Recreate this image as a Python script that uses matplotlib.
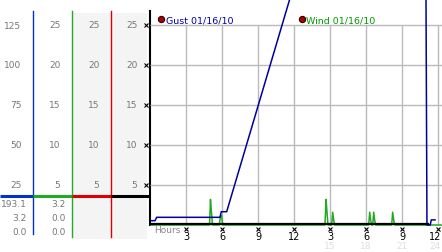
import matplotlib.pyplot as plt
import matplotlib.transforms as mtransforms

W, H = 442, 253

# Gust series (hours since start, value)
gust_hours = [0.0, 0.42, 0.56, 5.83, 5.94, 6.39, 13.7, 22.97, 23.08, 23.35, 23.44, 23.75]
gust_vals = [2.7, 2.7, 4.8, 4.8, 8.3, 8.3, 193.1, 193.1, 0.0, 0.0, 3.2, 3.2]

# Wind series
wind_hours = [0.0, 4.96, 5.04, 5.12, 5.21, 5.78, 5.86, 5.97, 6.05,
              14.58, 14.67, 14.75, 14.83, 15.14, 15.22, 15.31, 15.39,
              18.22, 18.31, 18.39, 18.47, 18.56, 18.64, 18.72, 18.81,
              20.14, 20.22, 20.31, 20.39, 24.33]
wind_vals = [0.0, 0.0, 3.2, 1.6, 0.0, 0.0, 1.0, 1.2, 0.0,
             0.0, 3.2, 1.6, 0.0, 0.0, 1.6, 0.6, 0.0,
             0.0, 1.6, 0.6, 0.0, 0.0, 1.6, 0.6, 0.0,
             0.0, 1.6, 0.6, 0.0, 0.0]

# black base series
base_hours = [0.0, 23.17]
base_vals = [0.0, 0.0]

gust_ticks = [25, 50, 75, 100, 125]
wind_ticks = [5, 10, 15, 20, 25]
gust_stats = ["193.1", "3.2", "0.0"]   # max, current, min
wind_stats = ["3.2", "0.0", "0.0"]
hour_ticks = [3, 6, 9, 12, 15, 18, 21, 24]
hour_labels = ["3", "6", "9", "12", "3", "6", "9", "12"]
day_ticks = [15, 18, 21, 24]
day_labels = ["15", "18", "21", "24"]

GUST_C = "#000099"
WIND_C = "#22aa22"
GRID_C = "#bbbbbb"
LABEL_C = "#777777"

fig = plt.figure(figsize=(W / 100, H / 100), dpi=100)

# pixel-based layer for the left scale panel and decorations
deco = fig.add_axes([0, 0, 1, 1], zorder=0)
deco.set_xlim(0, W)
deco.set_ylim(H, 0)
deco.axis("off")

bottom_px = 227.6
ax = fig.add_axes([150 / W, (H - bottom_px) / H, (W - 150) / W, bottom_px / H], zorder=2)
ax.patch.set_visible(False)
ax.set_xlim(0, 24.333)
ax.set_ylim(-1, 141.25)
ax.axis("off")

ax2 = fig.add_axes(ax.get_position(), zorder=1)
ax2.patch.set_visible(False)
ax2.set_xlim(0, 24.333)
ax2.set_ylim(-0.2, 28.25)
ax2.axis("off")

# grid
ax2.hlines(wind_ticks, 0, 24.333, color=GRID_C, lw=1, zorder=1)
ax2.vlines(hour_ticks, 0, 25, color=GRID_C, lw=1, zorder=1)

# data
ax2.plot(wind_hours, wind_vals, color=WIND_C, lw=1.1, zorder=2)
ax.plot(gust_hours, gust_vals, color=GUST_C, lw=1.1, zorder=3)
base_tr = mtransforms.offset_copy(ax.transData, fig=fig, x=0, y=1.5, units="dots")
ax.plot(base_hours, base_vals, color="black", lw=1.6, transform=base_tr, zorder=4)

# left panel: shading, column lines, divider
deco.axvspan(72.5, 147, ymin=(H - 240) / H, ymax=(H - 14) / H, color="#f4f4f4", lw=0)
deco.plot([33.3, 33.3], [12, 235], color="#0033cc", lw=1)
deco.plot([72.3, 72.3], [12, 238], color="#22aa22", lw=1)
deco.plot([111.3, 111.3], [12, 238], color="#dd0000", lw=1)
deco.plot([149.5, 149.5], [12, 226], color="black", lw=1.5)
for x0, x1, c in [(0, 33.3, "#0033cc"), (33.3, 72.3, "#22aa22"),
                  (72.3, 111.3, "#dd0000"), (111.3, 149.5, "black")]:
    deco.plot([x0, x1], [196.5, 196.5], color=c, lw=2.2, solid_capstyle="butt")

t_gust = mtransforms.blended_transform_factory(deco.transData, ax.transData)
t_wind = mtransforms.blended_transform_factory(deco.transData, ax2.transData)
t_hour = mtransforms.blended_transform_factory(ax.transData, deco.transData)

fs = 6.5
for v in gust_ticks:
    deco.text(21.5, v, str(v), transform=t_gust, ha="right", va="center",
              fontsize=fs, color=LABEL_C)
for v in wind_ticks:
    for x in [60.5, 99.5, 137.5]:
        deco.text(x, v, str(v), transform=t_wind, ha="right", va="center",
                  fontsize=fs, color=LABEL_C)
for i, y in enumerate([205, 218.3, 232.3]):
    deco.text(26.5, y, gust_stats[i], ha="right", va="center", fontsize=fs, color=LABEL_C)
    deco.text(66, y, wind_stats[i], ha="right", va="center", fontsize=fs, color=LABEL_C)

# small tick marks on the axes
deco.plot([145.7] * len(gust_ticks), gust_ticks, transform=t_gust, ls="none",
          marker="x", ms=2.6, mew=0.8, color="black")
deco.plot(hour_ticks, [230] * len(hour_ticks), transform=t_hour, ls="none",
          marker="x", ms=2.6, mew=0.8, color="black")

# hour labels (last one pulled in so it stays inside the picture)
deco.text(154, 231, "Hours", ha="left", va="center", fontsize=fs, color="#888888")
for h, lab in zip(hour_ticks, hour_labels):
    if h == hour_ticks[-1]:
        deco.text(441, 237.5, lab, ha="right", va="center", fontsize=7, color="black")
    else:
        deco.text(h, 237.5, lab, transform=t_hour, ha="center", va="center",
                  fontsize=7, color="black")
for h, lab in zip(day_ticks, day_labels):
    if h == day_ticks[-1]:
        deco.text(441, 247, lab, ha="right", va="center", fontsize=fs, color="#dddddd")
    else:
        deco.text(h, 247, lab, transform=t_hour, ha="center", va="center",
                  fontsize=fs, color="#dddddd")

# legend
for x, name, c in [(161, "Gust 01/16/10", "#0000aa"), (301.5, "Wind 01/16/10", "#009900")]:
    deco.plot([x], [20], marker="o", ms=4.5, mfc="#aa0000", mec="#330000", mew=0.8)
    deco.text(x + 4.5, 20.5, name, ha="left", va="center", fontsize=6.8, color=c)

fig.savefig("out.png", dpi=100)
